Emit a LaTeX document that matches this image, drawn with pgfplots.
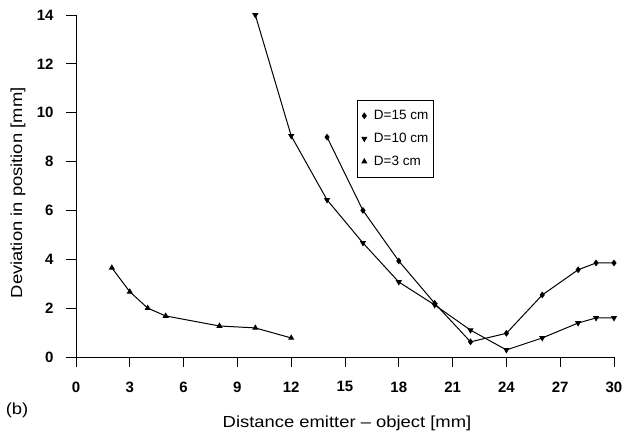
\documentclass[border=0pt]{standalone}
\usepackage{fontspec}
\setmainfont{Liberation Sans}
\newfontfamily\labelfont[FakeStretch=1.15]{Liberation Sans}
\usepackage{pgfplots}
\pgfplotsset{compat=1.18}

\begin{document}
\begin{tikzpicture}
\useasboundingbox (-76pt,-78pt) rectangle (548pt,357pt);
\begin{axis}[
    at={(0,0)}, anchor=origin,
    scale only axis, width=538pt, height=342pt,
    xmin=0, xmax=30, ymin=0, ymax=14,
    axis x line*=bottom, axis y line*=left,
    xtick={0,3,...,30}, ytick={0,2,...,14},
    tick align=outside, major tick length=10pt,
    tick style={black, line width=0.9pt},
    axis line style={line width=0.9pt},
    /pgf/number format/assume math mode=true,
    ticklabel style={font=\fontsize{15}{17}\selectfont\bfseries},
    xticklabel style={yshift=-11pt},
    yticklabel style={xshift=-9pt},
    xlabel={Distance emitter \textendash{} object [mm]},
    xlabel style={font=\labelfont\fontsize{16}{18}\selectfont, at={(axis description cs:0.5037,-0.193)}, anchor=center},
    ylabel={Deviation in position [mm]},
    ylabel style={font=\labelfont\fontsize{16}{18}\selectfont, at={(axis description cs:-0.1078,0.48)}, anchor=center},
    legend style={at={(axis cs:15.67,10.52)}, anchor=north west, draw=black, line width=0.8pt,
      font=\fontsize{13.5}{15}\selectfont, row sep=8pt, inner xsep=3pt, inner ysep=8pt},
    legend cell align=left,
    legend image code/.code={\draw[#1,only marks] plot coordinates {(0.07cm,0cm)};\path (-0.05cm,0cm) (0.32cm,0cm);},
    every axis plot/.append style={black, line width=1pt, mark size=2.6pt},
    clip=false,
  ]
  % D=15 cm
  \addplot[mark=diamond*] coordinates {
    (14,9.0)(16,6.0)(18,3.93)(20,2.2)(22,0.62)(24,0.97)(26,2.54)(28,3.57)(29,3.85)(30,3.85)};
  \addlegendentry{D=15 cm}
  % D=10 cm
  \addplot[mark=triangle*, mark options={rotate=180}] coordinates {
    (10,14)(12,9.05)(14,6.43)(16,4.67)(18,3.07)(20,2.13)(22,1.1)(24,0.29)(26,0.78)(28,1.39)(29,1.6)(30,1.6)};
  \addlegendentry{D=10 cm}
  % D=3 cm
  \addplot[mark=triangle*] coordinates {
    (2,3.65)(3,2.67)(4,2.0)(5,1.68)(8,1.27)(10,1.19)(12,0.78)};
  \addlegendentry{D=3 cm}
\end{axis}
\node[font=\labelfont\fontsize{16}{18}\selectfont] at (-59pt,-53pt) {(b)};
\end{tikzpicture}
\end{document}
